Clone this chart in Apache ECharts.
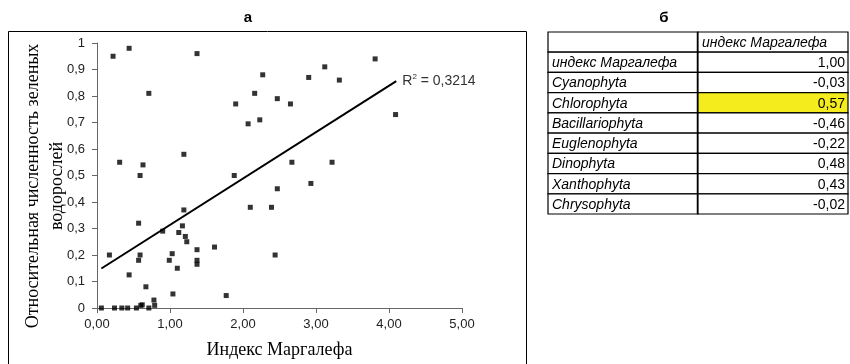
<!DOCTYPE html>
<html>
<head>
<meta charset="utf-8">
<script src="https://cdn.jsdelivr.net/npm/echarts@6/dist/echarts.min.js"></script>
<style>
  html, body { margin: 0; padding: 0; background: #fff; }
  #chart { width: 850px; height: 364px; }
</style>
</head>
<body>
<div id="chart"></div>
<script>
// точки: [индекс Маргалефа, относительная численность зеленых]
var points = [
  [0.06, 0], [0.24, 0], [0.34, 0], [0.42, 0], [0.54, 0], [0.71, 0],
  [0.60, 0.01], [0.62, 0.012], [0.79, 0.01], [0.78, 0.03],
  [0.67, 0.08], [0.44, 0.125], [1.04, 0.053], [1.10, 0.15],
  [1.37, 0.165], [1.37, 0.18], [1.37, 0.22], [0.57, 0.18], [0.59, 0.20],
  [0.17, 0.20], [0.99, 0.18], [1.03, 0.205], [1.61, 0.23], [1.23, 0.25],
  [1.21, 0.27], [1.12, 0.285], [0.90, 0.29], [1.17, 0.31], [0.57, 0.32],
  [1.19, 0.37], [0.59, 0.50], [1.88, 0.50], [0.63, 0.54], [0.31, 0.55],
  [1.19, 0.58], [0.71, 0.81], [0.22, 0.95], [0.44, 0.98], [1.37, 0.96],
  [1.77, 0.047], [2.44, 0.20], [2.10, 0.38], [2.39, 0.38], [2.47, 0.45],
  [2.93, 0.47], [2.67, 0.55], [3.22, 0.55], [2.07, 0.695], [2.23, 0.71],
  [1.90, 0.77], [2.65, 0.77], [2.47, 0.79], [2.16, 0.81], [2.90, 0.87],
  [2.27, 0.88], [3.12, 0.91], [3.32, 0.86], [3.81, 0.94], [4.09, 0.73]
];
// линия тренда (концы)
var trend = [[0.06, 0.149], [4.10, 0.856]];
var r2Text = "0,3214";
var yName = "Относительная численность зеленых\nводорослей";

// таблица б
var tableHeader = "индекс Маргалефа";
var groups = ["индекс Маргалефа", "Cyanophyta", "Chlorophyta", "Bacillariophyta",
  "Euglenophyta", "Dinophyta", "Xanthophyta", "Chrysophyta"];
var corr = [1.00, -0.03, 0.57, -0.46, -0.22, 0.48, 0.43, -0.02];
var highlightGroup = "Chlorophyta";

function comma(v, d) {
  return v.toFixed(d).replace(".", ",");
}

var rowCount = groups.length + 1;
var cells = [];
for (var i = 0; i < rowCount; i++) {
  for (var j = 0; j < 2; j++) {
    cells.push([j, i]);
  }
}

var chart = echarts.init(document.getElementById("chart"));

var sans = "Liberation Sans, Arial, sans-serif";
var serif = "Liberation Serif, Times New Roman, serif";

var option = {
  backgroundColor: "#fff",
  animation: false,
  graphic: [
    {
      type: "rect",
      shape: { x: 8.5, y: 31.5, width: 518, height: 360 },
      style: { fill: "none", stroke: "#000", lineWidth: 1 },
      silent: true
    },
    {
      type: "text", x: 248, y: 18,
      style: { text: "а", font: "bold 15px " + sans, fill: "#000", align: "center", verticalAlign: "middle" }
    },
    {
      type: "text", x: 664, y: 18,
      style: { text: "б", font: "bold 15px " + sans, fill: "#000", align: "center", verticalAlign: "middle" }
    },
    {
      // подпись оси Y в две строки
      type: "text", x: 45, y: 186, rotation: Math.PI / 2,
      style: {
        text: yName, font: "18px " + serif, fill: "#000",
        align: "center", verticalAlign: "middle", lineHeight: 24
      }
    }
  ],
  grid: [
    { left: 97, top: 43, width: 365, height: 270 },
    { left: 548, top: 32, width: 300, height: 182 }
  ],
  xAxis: [
    {
      type: "value",
      min: 0, max: 5, interval: 1,
      name: "Индекс Маргалефа",
      nameLocation: "middle",
      nameGap: 33,
      nameTextStyle: { fontFamily: serif, fontSize: 18, color: "#000" },
      axisLine: { show: true, lineStyle: { color: "#666", width: 1 } },
      axisTick: { show: true, length: 5, lineStyle: { color: "#666" } },
      splitLine: { show: false },
      axisLabel: {
        margin: 10,
        fontFamily: sans, fontSize: 13, color: "#222",
        formatter: function (v) { return comma(v, 2); }
      }
    },
    { gridIndex: 1, type: "category", data: ["c0", "c1"], show: false }
  ],
  yAxis: [
    {
      type: "value",
      min: 0, max: 1, interval: 0.1,
      axisLine: { show: true, lineStyle: { color: "#666", width: 1 } },
      axisTick: { show: true, length: 5, lineStyle: { color: "#666" } },
      splitLine: { show: false },
      axisLabel: {
        margin: 12,
        fontFamily: sans, fontSize: 13, color: "#222",
        formatter: function (v) { return String(+v.toFixed(1)).replace(".", ","); }
      }
    },
    {
      gridIndex: 1, type: "category", inverse: true, show: false,
      data: cells.filter(function (c) { return c[0] === 0; }).map(function (c) { return "r" + c[1]; })
    }
  ],
  series: [
    {
      type: "scatter",
      data: points,
      symbol: "rect",
      symbolSize: 5,
      itemStyle: { color: "#000" },
      z: 3
    },
    {
      type: "line",
      data: trend,
      symbol: "none",
      lineStyle: { color: "#000", width: 2 },
      endLabel: {
        show: true,
        distance: 6,
        formatter: "{r|R}{s|2}{t| = " + r2Text + "}",
        rich: {
          r: { fontFamily: sans, fontSize: 14, color: "#333" },
          s: { fontFamily: sans, fontSize: 8, color: "#333", verticalAlign: "top", padding: [0, 0, 8, 0] },
          t: { fontFamily: sans, fontSize: 14, color: "#333" }
        }
      },
      z: 2
    },
    {
      type: "custom",
      xAxisIndex: 1,
      yAxisIndex: 1,
      data: cells,
      renderItem: function (params, api) {
        var j = api.value(0), i = api.value(1);
        var p = api.coord([j, i]);
        var s = api.size([1, 1]);
        var x = p[0] - s[0] / 2, y = p[1] - s[1] / 2, w = s[0], h = s[1];
        var text = "", italic = true, align = "left", fill = "#fff";
        if (i === 0) {
          text = j === 1 ? tableHeader : "";
        } else {
          var g = groups[i - 1];
          if (j === 0) {
            text = g;
          } else {
            text = comma(corr[i - 1], 2);
            italic = false;
            align = "right";
            if (g === highlightGroup) fill = "#f4ec1c";
          }
        }
        var children = [
          {
            type: "rect",
            shape: { x: x, y: y, width: w, height: h },
            style: { fill: fill, stroke: "#000", lineWidth: 1.2 }
          },
          {
            type: "text",
            style: {
              text: text,
              x: align === "left" ? x + 4 : x + w - 3,
              y: y + h / 2 + 1,
              align: align,
              verticalAlign: "middle",
              font: (italic ? "italic " : "") + "14px " + sans,
              fill: "#000"
            }
          }
        ];
        if (j === 0) {
          children.push({
            type: "line",
            shape: { x1: x + w, y1: y, x2: x + w, y2: y + h },
            style: { stroke: "#000", lineWidth: 2.5 }
          });
        }
        return { type: "group", children: children };
      }
    }
  ]
};

chart.setOption(option);
</script>
</body>
</html>
